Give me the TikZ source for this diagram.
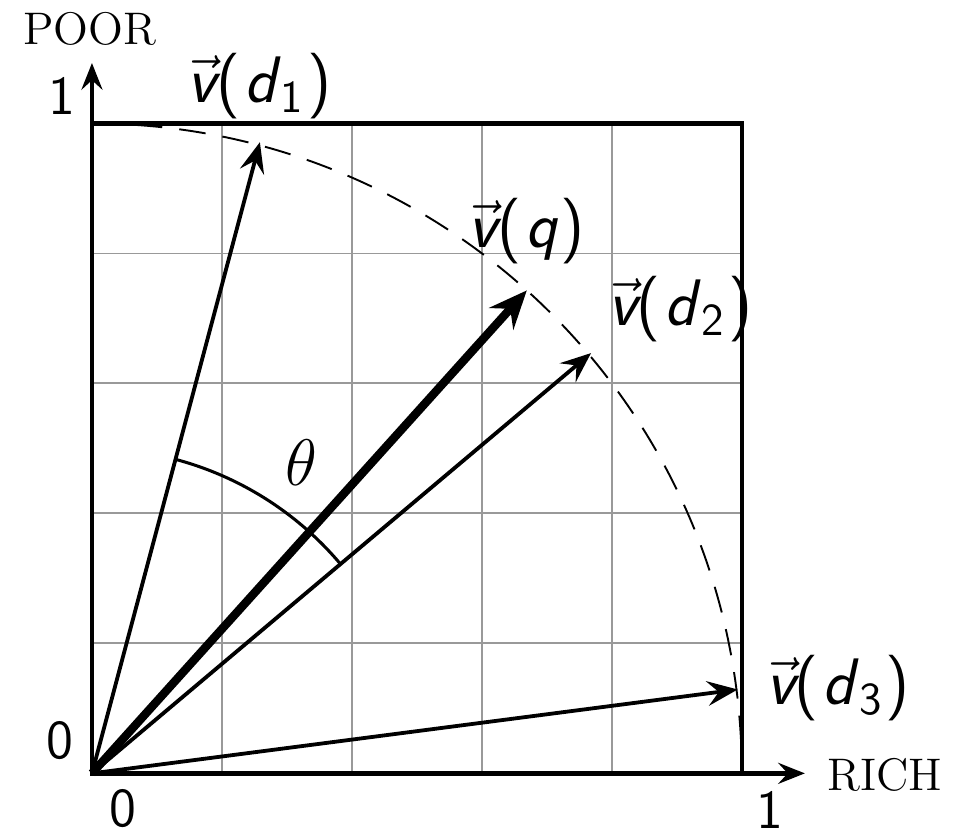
\documentclass[tikz,border=0pt]{standalone}
\usetikzlibrary{arrows.meta}

\newcommand*{\xmin}{-0.1415}
\newcommand*{\xmax}{1.328}
\newcommand*{\ymin}{-0.094}
\newcommand*{\ymax}{1.19}
\newcommand*{\vecof}[1]{$\vec{\mbox{\itshape v}}$(\kern0.06em#1\kern0.04em)}

\begin{document}
\begin{tikzpicture}
[
	x=6cm,y=6cm,
	axisline/.style={-{Stealth[length=7pt,width=5.5pt,inset=2.5pt]},very thick},
	vecline/.style={-{Stealth[length=8pt,width=6.5pt,inset=3pt]},line width=1pt},
	qline/.style={-{Stealth[length=10pt,width=8.5pt,inset=3.5pt]},line width=2.2pt},
	veclabel/.style={font=\LARGE\sffamily},
	ticklabel/.style={font=\Large\sffamily},
	axislabel/.style={font=\large}
]

	\useasboundingbox (\xmin,\ymin) rectangle (\xmax,\ymax);

	% grid and frame
	\draw[gray!80,line width=0.5pt] (0,0) grid[step=0.2] (1,1);
	\draw[very thick] (0,0) rectangle (1,1);

	% unit circle
	\draw[dash pattern=on 7pt off 4.5pt,line width=0.5pt] (90:1) arc[start angle=90,end angle=0,radius=1];

	% axes
	\coordinate (O) at (0,0);
	\coordinate (xend) at (1.097,0);
	\coordinate (yend) at (0,1.093);
	\draw[axisline] (O) -- (xend);
	\draw[axisline] (O) -- (yend);
	\node[axislabel] at (1.22,-0.003) (rich) {RICH};
	\node[axislabel] at (-0.003,1.146) (poor) {POOR};
	\node[ticklabel] at (0.048,-0.054) (x0) {0};
	\node[ticklabel] at (1.043,-0.057) (x1) {1};
	\node[ticklabel] at (-0.049,0.051) (y0) {0};
	\node[ticklabel] at (-0.046,1.043) (y1) {1};

	% vectors
	\coordinate (d1) at (75.1:1.005);
	\coordinate (q) at (48:1);
	\coordinate (d2) at (40.1:1.004);
	\coordinate (d3) at (7.4:1.002);
	\draw[vecline] (O) -- (d1);
	\draw[qline] (O) -- (q);
	\draw[vecline] (O) -- (d2);
	\draw[vecline] (O) -- (d3);
	\node[veclabel] at (0.258,1.057) (ld1) {\vecof{\textit{d}\textsubscript{1}}};
	\node[veclabel] at (0.669,0.835) (lq) {\vecof{\textit{q}}};
	\node[veclabel] at (0.905,0.714) (ld2) {\vecof{\textit{d}\textsubscript{2}}};
	\node[veclabel] at (1.148,0.131) (ld3) {\vecof{\textit{d}\textsubscript{3}}};

	% angle
	\draw[thick] (75.1:0.5) arc[start angle=75.1,end angle=40.1,radius=0.5];
	\node[font=\LARGE] at (0.323,0.478) (theta) {$\theta$};

\end{tikzpicture}
\end{document}
